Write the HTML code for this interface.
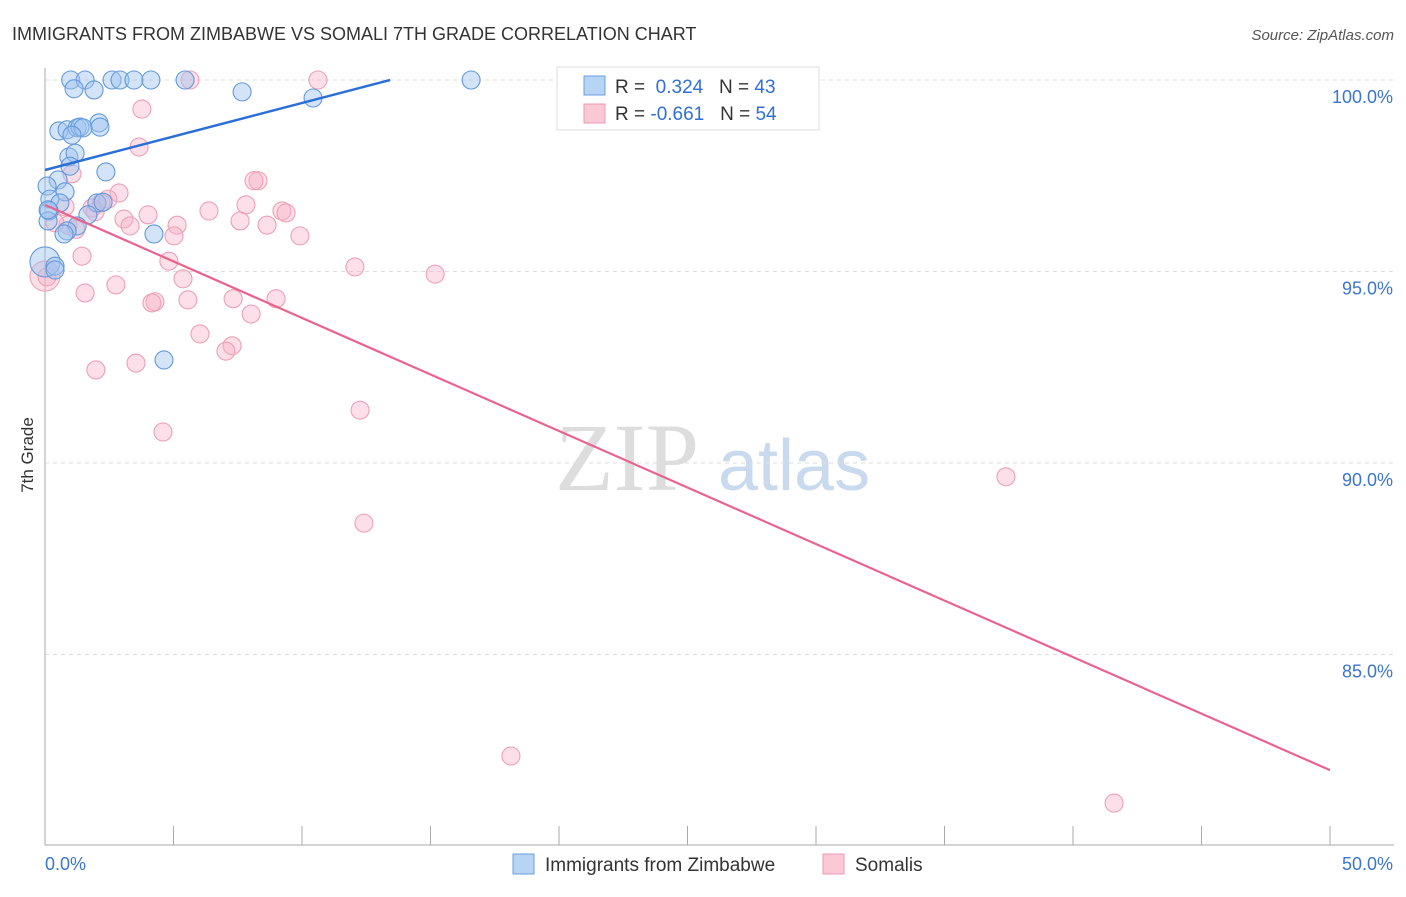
<!DOCTYPE html>
<html><head><meta charset="utf-8"><style>
body{margin:0;background:#fff;font-family:"Liberation Sans",sans-serif;}
svg text{font-family:"Liberation Sans",sans-serif;}
svg text.serif{font-family:"Liberation Serif",serif;}
</style></head><body>
<svg id="chart" width="1406" height="892">
<text x="12" y="40" font-size="18" fill="#333">IMMIGRANTS FROM ZIMBABWE VS SOMALI 7TH GRADE CORRELATION CHART</text>
<text x="1394" y="40" font-size="15" fill="#555" font-style="italic" text-anchor="end">Source: ZipAtlas.com</text>
<text x="33" y="455" font-size="17" fill="#333" transform="rotate(-90 33 455)" text-anchor="middle">7th Grade</text>
<g id="watermark"><text class="serif" x="555" y="490" font-size="96" fill="#ddd">ZIP</text><text x="718" y="490" font-size="72" fill="#c9d9ee">atlas</text></g>
<g id="grid"></g><g id="axes"></g><g id="pts"></g><g id="lines"></g>
<g>
<rect x="557" y="67" width="262" height="63" fill="#fff" stroke="#ddd"/>
<rect x="584" y="76" width="21" height="19" fill="#b8d4f5" stroke="#6a9fe0"/>
<rect x="584" y="104" width="21" height="19" fill="#fbc8d6" stroke="#ee9ab3"/>
<text x="615" y="93" font-size="19" fill="#333">R = <tspan fill="#2f6fd6">&#160;0.324</tspan>&#160;&#160;&#160;N = <tspan fill="#2f6fd6">43</tspan></text>
<text x="615" y="120" font-size="19" fill="#333">R = <tspan fill="#2f6fd6">-0.661</tspan>&#160;&#160;&#160;N = <tspan fill="#2f6fd6">54</tspan></text>
</g>
<g>
<rect x="513" y="854" width="21" height="20" fill="#b8d4f5" stroke="#6a9fe0"/>
<text x="545" y="871" font-size="19" fill="#333">Immigrants from Zimbabwe</text>
<rect x="823" y="854" width="21" height="20" fill="#fbc8d6" stroke="#ee9ab3"/>
<text x="855" y="871" font-size="19" fill="#333">Somalis</text>
</g>
</svg>
<script>
const yTicks=[100,95,90,85];
const xTickLabels=["0.0%","50.0%"];
const blueX=[1.0,1.56,2.61,2.92,3.46,4.12,5.45,16.58,1.13,1.91,7.67,10.43,2.1,0.54,0.86,1.25,1.36,1.48,2.14,0.93,1.17,0.97,1.05,2.37,0.51,0.08,0.78,0.19,2.02,2.26,0.58,0.16,1.67,4.24,0.12,1.25,0.86,0.74,0.0,0.39,0.39,4.63,0.12];
const blueY=[100,100,100,100,100,100,100,100,99.77,99.74,99.69,99.53,98.88,98.67,98.7,98.75,98.77,98.75,98.77,97.99,98.09,97.75,98.56,97.6,97.39,97.23,97.08,96.89,96.79,96.81,96.79,96.58,96.48,95.98,96.32,96.19,96.06,95.98,95.25,95.14,95.04,92.69,96.61];
const blueR=[9,9,9,9,9,9,9,9,9,9,9,9,9,9,9,9,9,9,9,9,9,9,9,9,9,9,9,9,9,9,9,9,9,9,9,9,9,9,15,9,9,9,9];
const pinkX=[5.64,10.62,3.77,3.66,1.05,8.29,8.13,2.88,2.18,2.45,7.82,9.22,9.38,6.38,4.01,3.07,7.59,8.64,5.14,9.92,5.02,1.83,1.2,0.89,0.39,3.31,1.44,4.82,12.06,15.18,0.0,0.08,1.56,2.76,5.37,4.28,4.16,5.56,7.32,8.99,8.02,6.03,7.28,7.04,3.54,1.98,12.26,4.59,37.39,12.41,18.13,41.6,1.95,0.78];
const pinkY=[100,100,99.24,98.25,97.55,97.37,97.37,97.05,96.79,96.89,96.74,96.58,96.53,96.58,96.48,96.37,96.32,96.21,96.21,95.93,95.93,96.66,96.1,96.21,96.27,96.19,95.4,95.27,95.12,94.93,94.88,94.86,94.44,94.65,94.81,94.21,94.18,94.26,94.29,94.29,93.89,93.37,93.06,92.92,92.61,92.43,91.38,90.81,89.64,88.43,82.35,81.12,96.56,96.69];
const pinkR=[9,9,9,9,9,9,9,9,9,9,9,9,9,9,9,9,9,9,9,9,9,9,9,9,9,9,9,9,9,9,15,9,9,9,9,9,9,9,9,9,9,9,9,9,9,9,9,9,9,9,9,9,9,9];
const blueTrend=[97.65,0.175];
const pinkTrend=[96.74,-0.2952];
const X0=45,X1=1330,Y100=80,PXPER=38.3;
const sx=v=>X0+v/50*(X1-X0);
const sy=v=>Y100+(100-v)*PXPER;
const NS="http://www.w3.org/2000/svg";
function mk(tag,attrs,parent){const e=document.createElementNS(NS,tag);for(const k in attrs)e.setAttribute(k,attrs[k]);document.getElementById(parent).appendChild(e);return e;}
yTicks.forEach(t=>{
 const l=mk('line',{x1:X0,x2:1394,y1:sy(t),y2:sy(t),stroke:'#ddd','stroke-dasharray':'4,4'},'grid');
 
 
 const tx=mk('text',{x:1393,y:sy(t)+23,'font-size':18,fill:'#3a75d0','text-anchor':'end'},'axes');
 tx.textContent=t.toFixed(1)+'%';
 
 
});
let a=mk('line',{x1:X0,x2:X0,y1:68,y2:845,stroke:'#aaa'},'axes');


a=mk('line',{x1:X0,x2:1394,y1:845,y2:845,stroke:'#aaa'},'axes');


for(let i=0;i<=10;i++){const t=mk('line',{x1:sx(i*5),x2:sx(i*5),y1:826,y2:845,stroke:'#aaa'},'axes');
 
 }
xTickLabels.forEach((s,i)=>{const t=mk('text',{x:i?1393:45,y:870,'font-size':18,fill:'#3a75d0','text-anchor':i?'end':'start'},'axes');t.textContent=s;
 
 });
pinkX.forEach((x,i)=>{const c=mk('circle',{cx:sx(x),cy:sy(pinkY[i]),r:pinkR[i],fill:'rgba(248,176,198,0.4)',stroke:'#ef9fb7','stroke-width':1.1},'pts');
 
 });
blueX.forEach((x,i)=>{const c=mk('circle',{cx:sx(x),cy:sy(blueY[i]),r:blueR[i],fill:'rgba(160,196,240,0.45)',stroke:'#6399dd','stroke-width':1.1},'pts');
 
 });
const bEnd=(100-blueTrend[0])/blueTrend[1];
let ln=mk('line',{x1:sx(0),y1:sy(blueTrend[0]),x2:sx(bEnd),y2:sy(100),stroke:'#2b6fd6','stroke-width':2.5},'lines');


ln=mk('line',{x1:sx(0),y1:sy(pinkTrend[0]),x2:sx(50),y2:sy(pinkTrend[0]+pinkTrend[1]*50),stroke:'#e8648f','stroke-width':2.2},'lines');


</script>
</body></html>
